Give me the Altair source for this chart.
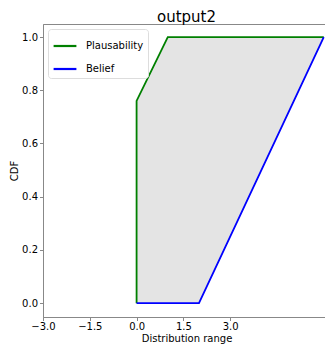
import altair as alt
import pandas as pd

pl_x = [0.0, 0.0, 1.0, 6.0]
pl_y = [0.0, 0.76, 1.0, 1.0]
be_x = [0.0, 2.0, 6.0]
be_y = [0.0, 0.0, 1.0]

fill_x = [0.0, 1.0, 2.0, 6.0]
fill_lo = [0.0, 0.0, 0.0, 1.0]
fill_hi = [0.76, 1.0, 1.0, 1.0]

x_ticks = [-3.0, -1.5, 0.0, 1.5, 3.0]
y_ticks = [0.0, 0.2, 0.4, 0.6, 0.8, 1.0]

lines = pd.DataFrame(
    [{"x": x, "y": y, "s": "Plausability", "o": i} for i, (x, y) in enumerate(zip(pl_x, pl_y))]
    + [{"x": x, "y": y, "s": "Belief", "o": i} for i, (x, y) in enumerate(zip(be_x, be_y))]
)
fill = pd.DataFrame({"x": fill_x, "lo": fill_lo, "hi": fill_hi})

FONT = "DejaVu Sans"
AX = "#888888"
xs = alt.Scale(domain=[-3.0, 6.2], nice=False, zero=False)
ys = alt.Scale(domain=[-0.052, 1.049], nice=False, zero=False)

xaxis = alt.Axis(values=x_ticks, format=".1f", labelExpr="replace(datum.label, '-', '\u2212')",
                 grid=False, tickSize=3.5, labelFontSize=10, titleFontSize=10, titleFontWeight="normal",
                 labelFont=FONT, titleFont=FONT, labelColor="black", titleColor="black",
                 domainColor=AX, tickColor=AX, titlePadding=2, labelPadding=1, labelFlush=False)
yaxis = alt.Axis(values=y_ticks, format=".1f", grid=False, tickSize=3.5, labelFontSize=10,
                 titleFontSize=10, titleFontWeight="normal", labelFont=FONT, titleFont=FONT,
                 labelColor="black", titleColor="black", domainColor=AX, tickColor=AX,
                 titlePadding=2, labelPadding=2)

area = alt.Chart(fill).mark_area(color="#e4e4e4", opacity=1).encode(
    x=alt.X("x:Q", scale=xs, axis=xaxis, title="Distribution range"),
    y=alt.Y("lo:Q", scale=ys, axis=yaxis, title="CDF"),
    y2="hi:Q",
)

line = alt.Chart(lines).mark_line(strokeWidth=1.8, clip=True).encode(
    x=alt.X("x:Q", scale=xs),
    y=alt.Y("y:Q", scale=ys),
    order="o:Q",
    color=alt.Color("s:N", scale=alt.Scale(domain=["Plausability", "Belief"], range=["#008000", "#0000ff"]),
                    legend=alt.Legend(title=None, orient="top-left", symbolType="stroke", symbolStrokeWidth=2.2,
                                      symbolSize=520, labelFontSize=10, labelFont=FONT, labelColor="black",
                                      fillColor="white", strokeColor="#dddddd", padding=4, cornerRadius=3,
                                      offset=5, rowPadding=5, labelOffset=8)),
)

chart = (area + line).properties(
    width=287, height=293,
    title=alt.TitleParams("output2", fontSize=15, font=FONT, fontWeight="normal", color="black", offset=0, dy=1),
    autosize=alt.AutoSizeParams(type="none"),
    padding={"left": 35, "top": 16, "right": -5, "bottom": 27},
).configure_view(stroke=AX, strokeWidth=1)

chart.save("out.html", embed_options={"renderer": "svg", "actions": False})
